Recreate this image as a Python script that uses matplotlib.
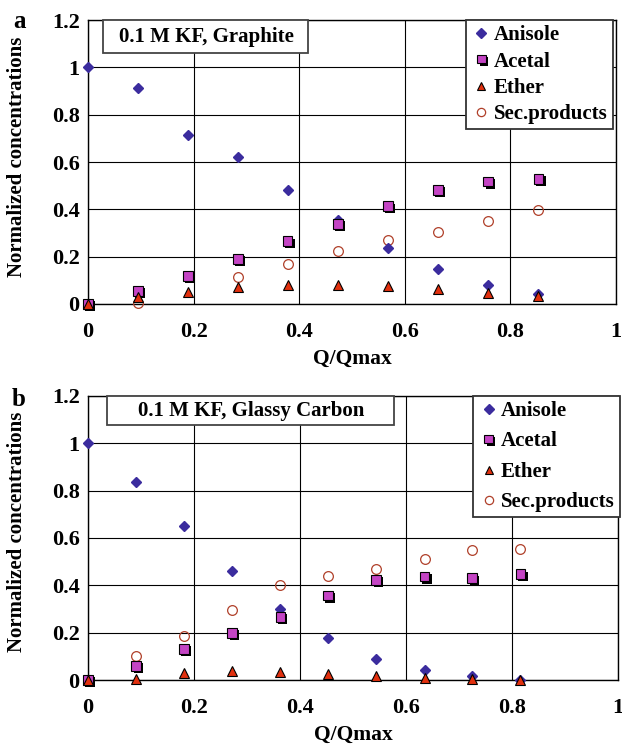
import numpy as np
import matplotlib
matplotlib.use('Agg')
import matplotlib.pyplot as plt
import matplotlib.patheffects as pe
from matplotlib.patches import Rectangle

# Graphite electrode (panel a)
q_graphite = [0, 0.094, 0.189, 0.284, 0.378, 0.473, 0.568, 0.663, 0.758, 0.853]
anisole_graphite = [1.0, 0.913, 0.714, 0.621, 0.483, 0.356, 0.237, 0.149, 0.082, 0.042]
acetal_graphite = [0.0, 0.056, 0.117, 0.19, 0.265, 0.338, 0.413, 0.483, 0.518, 0.528]
ether_graphite = [0.0, 0.028, 0.051, 0.072, 0.082, 0.082, 0.075, 0.063, 0.046, 0.032]
sec_graphite = [0.0, 0.004, 0.112, 0.113, 0.169, 0.222, 0.272, 0.304, 0.352, 0.399]

# Glassy carbon electrode (panel b)
q_glassy = [0, 0.091, 0.181, 0.272, 0.363, 0.453, 0.544, 0.635, 0.725, 0.816]
anisole_glassy = [1.0, 0.835, 0.649, 0.462, 0.299, 0.177, 0.09, 0.041, 0.018, 0.0]
acetal_glassy = [0.0, 0.06, 0.131, 0.2, 0.266, 0.357, 0.423, 0.437, 0.43, 0.447]
ether_glassy = [0.0, 0.003, 0.03, 0.038, 0.032, 0.025, 0.018, 0.008, 0.004, 0.0]
sec_glassy = [0.0, 0.103, 0.188, 0.296, 0.402, 0.441, 0.468, 0.511, 0.549, 0.554]

series_names = ['Anisole', 'Acetal', 'Ether', 'Sec.products']
xticks = [0, 0.2, 0.4, 0.6, 0.8, 1]
xticklabels = ['0', '0.2', '0.4', '0.6', '0.8', '1']
yticks = [0, 0.2, 0.4, 0.6, 0.8, 1.0, 1.2]
yticklabels = ['0', '0.2', '0.4', '0.6', '0.8', '1', '1.2']

plt.rcParams['font.family'] = ['Liberation Serif', 'DejaVu Serif']
plt.rcParams['font.weight'] = 'bold'

fig = plt.figure(figsize=(6.22, 7.45), dpi=100)
ax_a = fig.add_axes([0.1415, 0.592, 0.849, 0.381])
ax_b = fig.add_axes([0.1415, 0.0872, 0.852, 0.3815])

shadow = [pe.SimplePatchShadow(offset=(1.6, -1.6), shadow_rgbFace='black', alpha=1.0), pe.Normal()]


def draw_panel(ax, q, anis, acet, eth, sec, title, title_xy, box, leg_anchor, leg_space):
    ax.plot(q, anis, linestyle='none', marker='D', ms=5.5, mfc='#3B2C9E', mec='#3B2C9E',
            label=series_names[0], clip_on=False, zorder=4)
    ax.plot(q, acet, linestyle='none', marker='s', ms=7, mfc='#C444C4', mec='black', mew=0.8,
            label=series_names[1], clip_on=False, zorder=5, path_effects=shadow)
    ax.plot(q, eth, linestyle='none', marker='^', ms=7, mfc='#E2300E', mec='black', mew=0.8,
            label=series_names[2], clip_on=False, zorder=6)
    ax.plot(q, sec, linestyle='none', marker='o', ms=7, mfc='none', mec='#B0402A', mew=0.9,
            label=series_names[3], clip_on=False, zorder=3)

    ax.set_xlim(0, 1)
    ax.set_ylim(0, 1.2)
    ax.set_xticks(xticks)
    ax.set_xticklabels(xticklabels)
    ax.set_yticks(yticks)
    ax.set_yticklabels(yticklabels)
    ax.tick_params(labelsize=16, length=0)
    ax.tick_params(axis='x', pad=13)
    ax.tick_params(axis='y', pad=6)
    ax.grid(True, color='black', lw=0.8)
    ax.set_axisbelow(True)
    for s in ax.spines.values():
        s.set_linewidth(1.0)

    ax.set_xlabel('Q/Qmax', fontsize=15.5, fontweight='bold')
    ax.set_ylabel('Normalized concentrations', fontsize=15, fontweight='bold')
    ax.xaxis.set_label_coords(0.5, -0.158)
    ax.yaxis.set_label_coords(-0.115, 0.52)

    ax.add_patch(Rectangle((box[0], box[1]), box[2], box[3], transform=ax.transAxes,
                           fc='white', ec='#444444', lw=1.3, zorder=9, clip_on=False))
    ax.text(title_xy[0], title_xy[1], title, transform=ax.transAxes, ha='center', va='center',
            fontsize=15, fontweight='bold', zorder=10)

    leg = ax.legend(loc='upper right', bbox_to_anchor=leg_anchor, fontsize=15, frameon=True,
                    fancybox=False, edgecolor='#333333', framealpha=1, borderpad=0.25,
                    handletextpad=0.1, handlelength=1.0, labelspacing=leg_space,
                    borderaxespad=0, markerscale=0.85)
    leg.get_frame().set_linewidth(1.3)
    leg.set_zorder(10)


draw_panel(ax_a, q_graphite, anisole_graphite, acetal_graphite, ether_graphite, sec_graphite,
           '0.1 M KF, Graphite', (0.2235, 0.94), (0.028, 0.884, 0.389, 0.116),
           (0.994, 1.0), 0.3)
draw_panel(ax_b, q_glassy, anisole_glassy, acetal_glassy, ether_glassy, sec_glassy,
           '0.1 M KF, Glassy Carbon', (0.3075, 0.945), (0.036, 0.898, 0.541, 0.102),
           (1.004, 1.0), 0.5)

fig.text(19 / 622, 1 - 21 / 745, 'a', fontsize=18, fontweight='bold', ha='center', va='center')
fig.text(19 / 622, 1 - 399 / 745, 'b', fontsize=18, fontweight='bold', ha='center', va='center')

fig.savefig('out.png', dpi=100)
